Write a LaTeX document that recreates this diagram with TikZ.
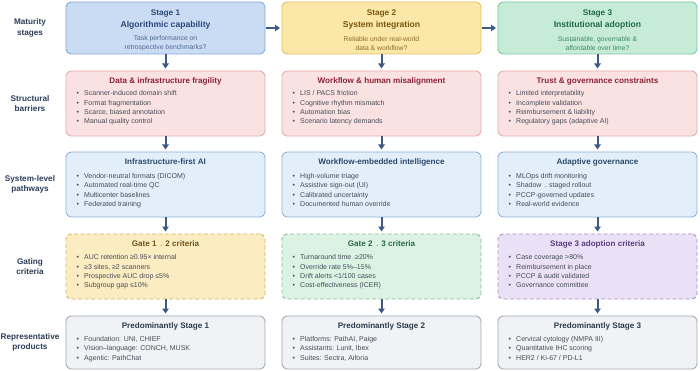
\documentclass[tikz,border=0pt]{standalone}
\usepackage{fontspec}
\setmainfont{Liberation Sans}
\usetikzlibrary{arrows.meta}

\definecolor{s1fill}{HTML}{CADCF4}
\definecolor{s1draw}{HTML}{86A8D8}
\definecolor{s1text}{HTML}{2B4A78}
\definecolor{s1q}{HTML}{4F6A90}
\definecolor{s2fill}{HTML}{FBE8A8}
\definecolor{s2draw}{HTML}{E2C25E}
\definecolor{s2text}{HTML}{7A5510}
\definecolor{s2q}{HTML}{8C6D2E}
\definecolor{s3fill}{HTML}{C6EBD6}
\definecolor{s3draw}{HTML}{7CC8A0}
\definecolor{s3text}{HTML}{1F6B48}
\definecolor{s3q}{HTML}{3F8A66}
\definecolor{barfill}{HTML}{FBE2E2}
\definecolor{bardraw}{HTML}{E8AAAA}
\definecolor{bartext}{HTML}{8A2236}
\definecolor{pathfill}{HTML}{E2EEF9}
\definecolor{pathdraw}{HTML}{90B4D8}
\definecolor{pathtext}{HTML}{2C4A6C}
\definecolor{g1fill}{HTML}{FCECC2}
\definecolor{g1draw}{HTML}{D6B458}
\definecolor{g1text}{HTML}{6E5418}
\definecolor{g2fill}{HTML}{DCF3E3}
\definecolor{g2draw}{HTML}{7FC096}
\definecolor{g2text}{HTML}{2A6A44}
\definecolor{g3fill}{HTML}{EBE1F6}
\definecolor{g3draw}{HTML}{A78FCB}
\definecolor{g3text}{HTML}{5A3D80}
\definecolor{prodfill}{HTML}{F0F2F5}
\definecolor{proddraw}{HTML}{A3ABB5}
\definecolor{prodtext}{HTML}{2C3A4E}
\definecolor{labtext}{HTML}{2C3E5A}
\definecolor{arrowc}{HTML}{3D5A80}
\definecolor{bultext}{HTML}{454C58}

\newcommand\bdot{\makebox[7.5pt][l]{•}}
\newcommand\smallglyph[1]{\scalebox{0.55}{#1}}

\begin{document}
\begin{tikzpicture}[x=1pt,y=-1pt,
  cell/.style={rounded corners=5pt, line width=0.9pt, minimum width=199pt,
    anchor=north west, inner sep=0pt, outer sep=0pt},
  stagebox/.style={cell, minimum height=52pt},
  midbox/.style={cell, minimum height=65pt},
  gatebox/.style={cell, minimum height=65pt, dash pattern=on 4pt off 2.5pt},
  prodbox/.style={cell, minimum height=53pt},
  stnum/.style={font=\fontsize{8.2}{10}\selectfont\bfseries, inner sep=0pt, text height=6pt, text depth=1.6pt},
  sttitle/.style={font=\fontsize{8.6}{10}\selectfont\bfseries, inner sep=0pt, text height=6.3pt, text depth=1.7pt},
  stq/.style={font=\fontsize{6.8}{9}\selectfont, align=center, inner sep=0pt},
  rtitle/.style={font=\fontsize{8.1}{10}\selectfont\bfseries, inner sep=0pt, text height=6pt, text depth=1.6pt},
  bul/.style={font=\fontsize{7}{8.5}\selectfont, anchor=west, inner sep=0pt, text=bultext,
    text height=5.2pt, text depth=1.4pt},
  rowlab/.style={font=\fontsize{8.2}{10.6}\selectfont\bfseries, align=center, text=labtext, inner sep=0pt},
  arr/.style={draw=arrowc, line width=2pt, -{Triangle[width=6.5pt,length=5pt]}, shorten >=2.5pt}
]
\useasboundingbox (0,0) rectangle (700,371);
\fill[white] (0,0) rectangle (700,371);

% ---- row labels
\node[rowlab] (L1) at (30,28) {Maturity\\stages};
\node[rowlab] (L2) at (30,103.5) {Structural\\barriers};
\node[rowlab] (L3) at (30,184.5) {System-level\\pathways};
\node[rowlab] (L4) at (30,266.5) {Gating\\criteria};
\node[rowlab] (L5) at (30,342.5) {Representative\\products};

% ---- row 1: stages
\node[stagebox, fill=s1fill, draw=s1draw] (s1) at (66,2) {};
\node[stagebox, fill=s2fill, draw=s2draw] (s2) at (282,2) {};
\node[stagebox, fill=s3fill, draw=s3draw] (s3) at (498,2) {};

\node[stnum, text=s1text] (s1n) at (165.5,13) {Stage 1};
\node[sttitle, text=s1text] (s1t) at (165.5,25.5) {Algorithmic capability};
\node[stq, text=s1q] (s1q) at (165.5,43.5) {Task performance on\\retrospective benchmarks?};

\node[stnum, text=s2text] (s2n) at (381.5,13) {Stage 2};
\node[sttitle, text=s2text] (s2t) at (381.5,25.5) {System integration};
\node[stq, text=s2q] (s2q) at (381.5,43.5) {Reliable under real-world\\data \& workflow?};

\node[stnum, text=s3text] (s3n) at (597.5,13) {Stage 3};
\node[sttitle, text=s3text] (s3t) at (597.5,25.5) {Institutional adoption};
\node[stq, text=s3q] (s3q) at (597.5,43.5) {Sustainable, governable \&\\affordable over time?};

% ---- row 2: barriers
\node[midbox, fill=barfill, draw=bardraw] (b1) at (66,71) {};
\node[midbox, fill=barfill, draw=bardraw] (b2) at (282,71) {};
\node[midbox, fill=barfill, draw=bardraw] (b3) at (498,71) {};
\node[rtitle, text=bartext] (b1t) at (165.5,81) {Data \& infrastructure fragility};
\node[rtitle, text=bartext] (b2t) at (381.5,81) {Workflow \& human misalignment};
\node[rtitle, text=bartext] (b3t) at (597.5,81) {Trust \& governance constraints};
\foreach \btext [count=\bidx] in {Scanner-induced domain shift, Format fragmentation, {Scarce, biased annotation}, Manual quality control}
  \node[bul] (b1l-\bidx) at (76.5,{94+9.3*(\bidx-1)}) {\bdot\btext};
\foreach \btext [count=\bidx] in {LIS / PACS friction, Cognitive rhythm mismatch, Automation bias, Scenario latency demands}
  \node[bul] (b2l-\bidx) at (292.5,{94+9.3*(\bidx-1)}) {\bdot\btext};
\foreach \btext [count=\bidx] in {Limited interpretability, Incomplete validation, Reimbursement \& liability, Regulatory gaps (adaptive AI)}
  \node[bul] (b3l-\bidx) at (508.5,{94+9.3*(\bidx-1)}) {\bdot\btext};

% ---- row 3: pathways
\node[midbox, fill=pathfill, draw=pathdraw] (p1) at (66,152) {};
\node[midbox, fill=pathfill, draw=pathdraw] (p2) at (282,152) {};
\node[midbox, fill=pathfill, draw=pathdraw] (p3) at (498,152) {};
\node[rtitle, text=pathtext] (p1t) at (165.5,162.5) {Infrastructure-first AI};
\node[rtitle, text=pathtext] (p2t) at (381.5,162.5) {Workflow-embedded intelligence};
\node[rtitle, text=pathtext] (p3t) at (597.5,162.5) {Adaptive governance};
\foreach \btext [count=\bidx] in {Vendor-neutral formats (DICOM), Automated real-time QC, Multicenter baselines, Federated training}
  \node[bul] (p1l-\bidx) at (76.5,{176.5+9.3*(\bidx-1)}) {\bdot\btext};
\foreach \btext [count=\bidx] in {High-volume triage, Assistive sign-out (UI), Calibrated uncertainty, Documented human override}
  \node[bul] (p2l-\bidx) at (292.5,{176.5+9.3*(\bidx-1)}) {\bdot\btext};
\foreach \btext [count=\bidx] in {MLOps drift monitoring, Shadow \smallglyph{→} staged rollout, PCCP-governed updates, Real-world evidence}
  \node[bul] (p3l-\bidx) at (508.5,{176.5+9.3*(\bidx-1)}) {\bdot\btext};

% ---- row 4: gates
\node[gatebox, fill=g1fill, draw=g1draw] (g1) at (66,234) {};
\node[gatebox, fill=g2fill, draw=g2draw] (g2) at (282,234) {};
\node[gatebox, fill=g3fill, draw=g3draw] (g3) at (498,234) {};
\node[rtitle, text=g1text] (g1t) at (165.5,244) {Gate 1 \smallglyph{→} 2 criteria};
\node[rtitle, text=g2text] (g2t) at (381.5,244) {Gate 2 \smallglyph{→} 3 criteria};
\node[rtitle, text=g3text] (g3t) at (597.5,244) {Stage 3 adoption criteria};
\foreach \btext [count=\bidx] in {AUC retention ≥0.95× internal, {≥3 sites, ≥2 scanners}, Prospective AUC drop ≤5\%, Subgroup gap ≤10\%}
  \node[bul] (g1l-\bidx) at (76.5,{258+9.3*(\bidx-1)}) {\bdot\btext};
\foreach \btext [count=\bidx] in {Turnaround time \smallglyph{↓}≥20\%, Override rate 5\%–15\%, Drift alerts <1/100 cases, Cost-effectiveness (ICER)}
  \node[bul] (g2l-\bidx) at (292.5,{258+9.3*(\bidx-1)}) {\bdot\btext};
\foreach \btext [count=\bidx] in {Case coverage >80\%, Reimbursement in place, PCCP \& audit validated, Governance committee}
  \node[bul] (g3l-\bidx) at (508.5,{258+9.3*(\bidx-1)}) {\bdot\btext};

% ---- row 5: products
\node[prodbox, fill=prodfill, draw=proddraw] (r1) at (66,316) {};
\node[prodbox, fill=prodfill, draw=proddraw] (r2) at (282,316) {};
\node[prodbox, fill=prodfill, draw=proddraw] (r3) at (498,316) {};
\node[rtitle, text=prodtext] (r1t) at (165.5,326) {Predominantly Stage 1};
\node[rtitle, text=prodtext] (r2t) at (381.5,326) {Predominantly Stage 2};
\node[rtitle, text=prodtext] (r3t) at (597.5,326) {Predominantly Stage 3};
\foreach \btext [count=\bidx] in {{Foundation: UNI, CHIEF}, {Vision–language: CONCH, MUSK}, Agentic: PathChat}
  \node[bul] (r1l-\bidx) at (76.5,{339.5+9.3*(\bidx-1)}) {\bdot\btext};
\foreach \btext [count=\bidx] in {{Platforms: PathAI, Paige}, {Assistants: Lunit, Ibex}, {Suites: Sectra, Aiforia}}
  \node[bul] (r2l-\bidx) at (292.5,{339.5+9.3*(\bidx-1)}) {\bdot\btext};
\foreach \btext [count=\bidx] in {Cervical cytology (NMPA III), Quantitative IHC scoring, HER2 / Ki-67 / PD-L1}
  \node[bul] (r3l-\bidx) at (508.5,{339.5+9.3*(\bidx-1)}) {\bdot\btext};

% ---- arrows
\draw[arr, shorten <=1pt, shorten >=2pt] (s1.east) -- (s2.west);
\draw[arr, shorten <=1pt, shorten >=2pt] (s2.east) -- (s3.west);
\foreach \c in {1,2,3}{
  \draw[arr] (s\c.south) -- (b\c.north);
  \draw[arr] (b\c.south) -- (p\c.north);
  \draw[arr] (p\c.south) -- (g\c.north);
  \draw[arr] (g\c.south) -- (r\c.north);
}
\end{tikzpicture}
\end{document}
